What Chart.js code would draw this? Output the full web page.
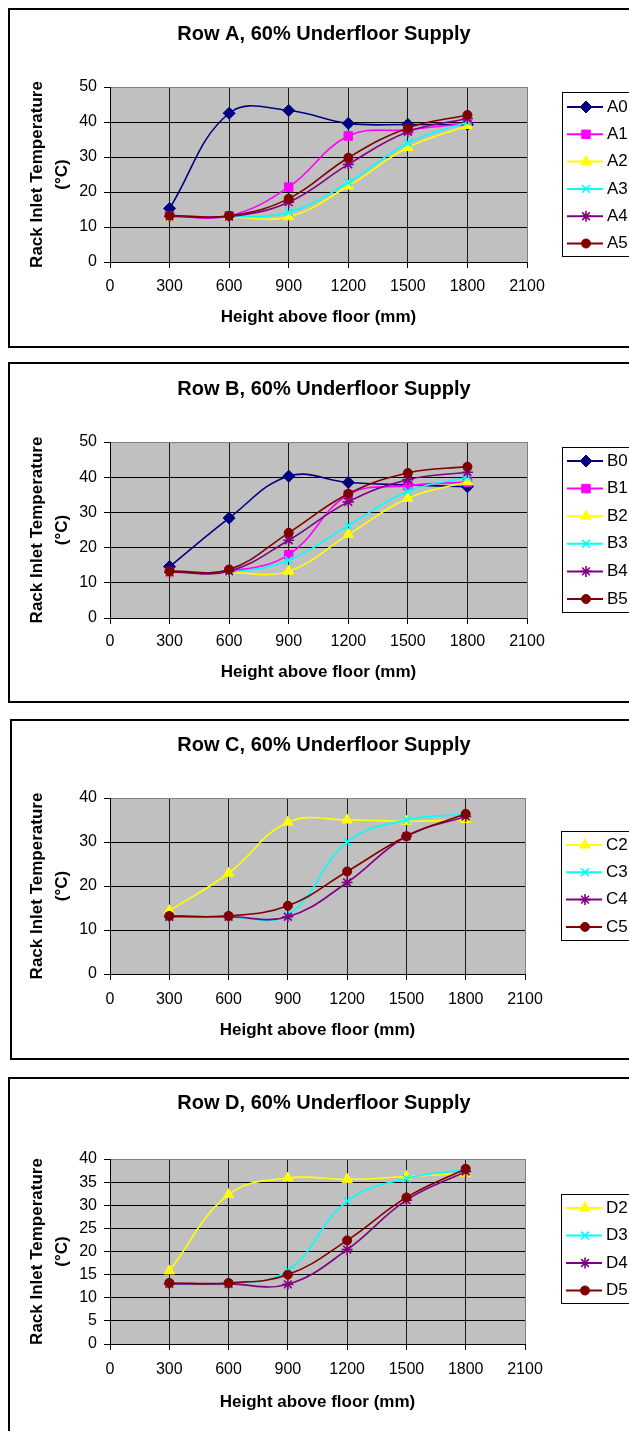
<!DOCTYPE html>
<html>
<head>
<meta charset="utf-8">
<script src="https://cdn.jsdelivr.net/npm/chart.js@4.4.1/dist/chart.umd.min.js"></script>
<style>
  html, body { margin: 0; padding: 0; background: #fff; overflow: hidden; }
  body { width: 629px; height: 1431px; position: relative; }
  .wrap { position: absolute; left: 0; width: 660px; }
  .frame { position: absolute; border: 2px solid #000; box-sizing: border-box; pointer-events: none; }
</style>
</head>
<body>
<div class="wrap" style="top:0;height:355px"><canvas id="chartA"></canvas></div>
<div class="wrap" style="top:355px;height:355px"><canvas id="chartB"></canvas></div>
<div class="wrap" style="top:710px;height:355px"><canvas id="chartC"></canvas></div>
<div class="wrap" style="top:1065px;height:366px"><canvas id="chartD"></canvas></div>

<div class="frame" style="left:8px;top:8px;width:700px;height:340px"></div>
<div class="frame" style="left:8px;top:362px;width:700px;height:341px"></div>
<div class="frame" style="left:10px;top:719px;width:700px;height:341px"></div>
<div class="frame" style="left:8px;top:1077px;width:700px;height:400px"></div>

<script>
// ── Data ──────────────────────────────────────────────────────────────────────
const HEIGHTS = [300, 600, 900, 1200, 1500, 1800];   // mm above floor

const A_NAMES = ["A0", "A1", "A2", "A3", "A4", "A5"];
const A0 = [15.3, 42.5, 43.3, 39.6, 39.3, 39.3];
const A1 = [13.2, 13.2, 21.4, 36.0, 37.8, 39.6];
const A2 = [12.8, 12.9, 12.9, 21.7, 32.7, 39.0];
const A3 = [13.0, 13.0, 14.2, 22.7, 34.0, 40.0];
const A4 = [13.0, 13.0, 17.1, 27.9, 37.2, 41.0];
const A5 = [13.3, 13.2, 18.1, 29.8, 38.3, 42.0];

const B_NAMES = ["B0", "B1", "B2", "B3", "B4", "B5"];
const B0 = [14.6, 28.4, 40.3, 38.5, 37.8, 37.3];
const B1 = [13.0, 13.3, 18.0, 35.0, 37.6, 38.6];
const B2 = [12.8, 12.9, 13.3, 23.7, 34.0, 38.7];
const B3 = [13.0, 13.0, 16.4, 26.3, 36.0, 40.0];
const B4 = [13.0, 13.3, 22.1, 33.0, 39.3, 41.4];
const B5 = [13.3, 13.8, 24.2, 35.3, 41.2, 43.0];

const C_NAMES = ["C2", "C3", "C4", "C5"];
const C2 = [14.4, 22.9, 34.5, 35.0, 34.7, 35.1];
const C3 = [13.0, 13.0, 13.4, 30.0, 35.0, 36.3];
const C4 = [13.0, 13.0, 13.0, 20.8, 31.3, 35.8];
const C5 = [13.2, 13.2, 15.5, 23.3, 31.3, 36.4];

const D_NAMES = ["D2", "D3", "D4", "D5"];
const D2 = [15.8, 32.3, 35.9, 35.6, 36.2, 36.9];
const D3 = [13.0, 13.0, 15.9, 30.9, 35.8, 37.7];
const D4 = [13.0, 13.0, 12.9, 20.4, 31.1, 37.3];
const D5 = [13.2, 13.2, 15.0, 22.4, 31.7, 37.9];

const X_TICK_STEP = 300;
const X_MAX = 2100;

// ── Styles (Excel default series look, indexed by rack number) ───────────────
const STYLE = [
    { color: "#000080", point: "rectRot",  r: 6 },
    { color: "#ff00ff", point: "rect",     r: 6 },
    { color: "#ffff00", point: "triangle", r: 6 },
    { color: "#00ffff", point: "crossRot", r: 5.5 },
    { color: "#800080", point: "star",     r: 5.5 },
    { color: "#800000", point: "circle",   r: 4.5 },
];

Chart.defaults.font.family = "'Liberation Sans', Arial, sans-serif";
Chart.defaults.color = "#000";
Chart.defaults.animation = false;

// ── Plugins ──────────────────────────────────────────────────────────────────
const plotBg = {
    id: "plotBg",
    beforeDraw(chart) {
        const { ctx, chartArea: a } = chart;
        ctx.save();
        ctx.fillStyle = "#c0c0c0";
        ctx.fillRect(a.left, a.top, a.width, a.height);
        ctx.restore();
    },
};

const boxLegend = {
    id: "boxLegend",
    afterDraw(chart, args, o) {
        const ctx = chart.ctx;
        ctx.save();
        ctx.lineWidth = 1;
        ctx.strokeStyle = "#000";
        ctx.strokeRect(o.left + 0.5, o.top + 0.5, 200, o.bottom - o.top);
        chart.data.datasets.forEach((ds, i) => {
            const y = o.first + i * o.step;
            ctx.strokeStyle = ds.borderColor;
            ctx.lineWidth = 2;
            ctx.beginPath();
            ctx.moveTo(o.left + 5, y);
            ctx.lineTo(o.left + 41, y);
            ctx.stroke();
            ctx.fillStyle = ds.pointBackgroundColor;
            ctx.strokeStyle = ds.pointBorderColor;
            ctx.lineWidth = ds.pointBorderWidth;
            Chart.helpers.drawPoint(ctx, {
                pointStyle: ds.pointStyle, radius: ds.pointRadius,
                borderWidth: ds.pointBorderWidth, rotation: 0,
            }, o.left + 24, y);
            ctx.fillStyle = "#000";
            ctx.font = "17px 'Liberation Sans', Arial, sans-serif";
            ctx.textAlign = "left";
            ctx.textBaseline = "middle";
            ctx.fillText(ds.label, o.left + 45, y);
        });
        ctx.restore();
    },
};

// ── Build ────────────────────────────────────────────────────────────────────
function makeDatasets(names, series, styleIdx) {
    return series.map((vals, i) => {
        const s = STYLE[styleIdx[i]];
        const stroked = s.point === "crossRot" || s.point === "star";
        return {
            label: names[i],
            data: HEIGHTS.map((h, k) => ({ x: h, y: vals[k] })),
            borderColor: s.color,
            borderWidth: 1.6,
            tension: 0.4,
            fill: false,
            pointStyle: s.point,
            pointRadius: s.r,
            pointBackgroundColor: s.color,
            pointBorderColor: s.color,
            pointBorderWidth: stroked ? 1.6 : 1,
            order: -i,
        };
    });
}

function renderRow(row) {
    const L = row.lay;
    const W = 660;
    const titleRight = 648;           // title centred at 324
    new Chart(document.getElementById(row.id), {
        type: "line",
        data: { datasets: makeDatasets(row.names, row.series, row.styleIdx) },
        options: {
            responsive: true,
            maintainAspectRatio: false,
            layout: { padding: { left: 0, top: 0, right: W - titleRight, bottom: 0 } },
            plugins: {
                legend: { display: false },
                tooltip: { enabled: false },
                title: {
                    display: true,
                    text: row.title,
                    color: "#000",
                    font: { size: 20, weight: "bold", lineHeight: 1.2 },
                    padding: { top: L.titleY - 12, bottom: L.plotTop - L.titleY - 12 },
                },
                boxLegend: L.legend,
            },
            scales: {
                x: {
                    type: "linear",
                    min: 0, max: X_MAX,
                    ticks: { stepSize: X_TICK_STEP, color: "#000", font: { size: 16, lineHeight: 1.2 },
                             padding: L.tickPad - 0.6, maxRotation: 0, autoSkip: false,
                             callback: v => String(v) },
                    grid: {
                        color: c => (c.tick && c.tick.value === X_MAX) ? "#808080" : "#1a1a1a",
                        tickColor: "#000", tickLength: 6, lineWidth: 1,
                    },
                    border: { color: "#000", width: 1 },
                    title: {
                        display: true, text: "Height above floor (mm)", color: "#000",
                        font: { size: 17, weight: "bold", lineHeight: 1.2 },
                        padding: { top: 0, bottom: L.canvasH - L.xTitleY - 10.2 },
                    },
                    afterFit: s => { s.height = L.canvasH - L.plotBottom; },
                },
                y: {
                    min: 0, max: row.yMax,
                    ticks: { stepSize: row.yStep, color: "#000", font: { size: 16 }, padding: 7 },
                    grid: {
                        color: c => (c.tick && c.tick.value === row.yMax) ? "#808080" : "#000",
                        tickColor: "#000", tickLength: 6, lineWidth: 1,
                    },
                    border: { color: "#000", width: 1 },
                    title: {
                        display: true, text: ["Rack Inlet Temperature", "(\u00B0C)"], color: "#000",
                        font: { size: 17, weight: "bold", lineHeight: "25px" },
                        padding: { top: 24.5, bottom: 0 },
                    },
                    afterFit: s => { s.width = 110; },
                },
                // empty right-hand box reserving room for the legend
                yPad: {
                    position: "right",
                    display: true,
                    grid: { display: false },
                    ticks: { display: false },
                    border: { display: false },
                    afterFit: s => { s.width = titleRight - L.plotRight; },
                },
            },
        },
        plugins: [plotBg, boxLegend],
    });
}

const ROWS = [
    {
        id: "chartA", title: "Row A, 60% Underfloor Supply",
        names: A_NAMES, series: [A0, A1, A2, A3, A4, A5], styleIdx: [0, 1, 2, 3, 4, 5],
        yMax: 50, yStep: 10,
        lay: { canvasH: 355, plotTop: 87, plotBottom: 262, plotRight: 527, titleY: 34, tickPad: 10, xTitleY: 317,
               legend: { left: 562, top: 92, bottom: 256, first: 107, step: 27.3 } },
    },
    {
        id: "chartB", title: "Row B, 60% Underfloor Supply",
        names: B_NAMES, series: [B0, B1, B2, B3, B4, B5], styleIdx: [0, 1, 2, 3, 4, 5],
        yMax: 50, yStep: 10,
        lay: { canvasH: 355, plotTop: 87, plotBottom: 263, plotRight: 527, titleY: 34, tickPad: 9, xTitleY: 317,
               legend: { left: 562, top: 92, bottom: 257, first: 106, step: 27.6 } },
    },
    {
        id: "chartC", title: "Row C, 60% Underfloor Supply",
        names: C_NAMES, series: [C2, C3, C4, C5], styleIdx: [2, 3, 4, 5],
        yMax: 40, yStep: 10,
        lay: { canvasH: 355, plotTop: 88, plotBottom: 264, plotRight: 525, titleY: 35, tickPad: 11, xTitleY: 320,
               legend: { left: 561, top: 121, bottom: 230, first: 135, step: 27.3 } },
    },
    {
        id: "chartD", title: "Row D, 60% Underfloor Supply",
        names: D_NAMES, series: [D2, D3, D4, D5], styleIdx: [2, 3, 4, 5],
        yMax: 40, yStep: 5,
        lay: { canvasH: 366, plotTop: 94, plotBottom: 279, plotRight: 525, titleY: 38, tickPad: 11, xTitleY: 337,
               legend: { left: 561, top: 129, bottom: 238, first: 143, step: 27.5 } },
    },
];

ROWS.forEach(renderRow);
</script>
</body>
</html>
